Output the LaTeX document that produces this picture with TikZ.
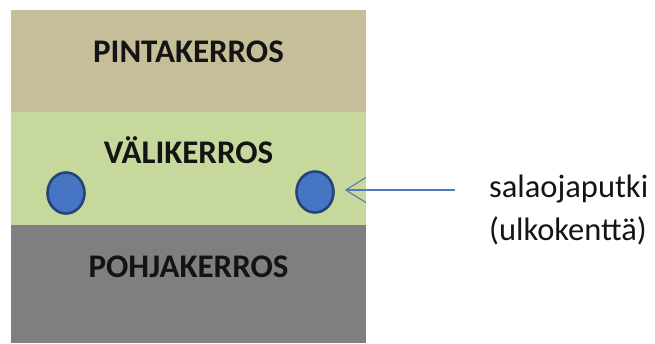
\documentclass[tikz,border=0pt]{standalone}
\usepackage{fontspec}
\setmainfont{Carlito}
\usetikzlibrary{arrows.meta,shapes.geometric}
\definecolor{tanlayer}{RGB}{197,190,152}
\definecolor{greenlayer}{RGB}{198,216,156}
\definecolor{graylayer}{RGB}{127,127,127}
\definecolor{pipefill}{RGB}{70,117,195}
\definecolor{pipeline}{RGB}{38,68,122}
\definecolor{arrowblue}{RGB}{84,124,186}
\definecolor{txt}{RGB}{20,20,20}
\tikzset{
  layertext/.style={font=\fontsize{33}{38}\selectfont\bfseries, text=txt, anchor=base, inner sep=0pt},
  pipe/.style={ellipse, draw=pipeline, fill=pipefill, line width=2.6pt, minimum width=37pt, minimum height=41pt, inner sep=0pt},
  labeltext/.style={font=\fontsize{32.5}{43}\selectfont, text=txt, anchor=base west, align=left, inner sep=0pt},
  pointer/.style={draw=arrowblue, line width=1.1pt, -{Straight Barb[length=20pt,width=25pt,line width=1.1pt]}}
}
\begin{document}
\begin{tikzpicture}[x=1pt,y=-1pt]
\useasboundingbox (0,0) rectangle (655,343);
\fill[white] (0,0) rectangle (655,343);
\fill[tanlayer] (11,10) rectangle (366,112);
\fill[greenlayer] (11,112) rectangle (366,225);
\fill[graylayer] (11,225) rectangle (366,343);
\node[layertext] (pinta) at (188.5,62) {PINTAKERROS};
\node[layertext] (vali) at (188.5,163) {VÄLIKERROS};
\node[layertext] (pohja) at (188.5,277) {POHJAKERROS};
\node[pipe] (pipeL) at (66,193) {};
\node[pipe] (pipeR) at (315,192) {};
\node[labeltext] (lab) at (489,240) {salaojaputki\\(ulkokenttä)};
\coordinate (arrstart) at (455,190);
\draw[pointer] (arrstart) -- ([xshift=10pt]pipeR.east |- arrstart);
\end{tikzpicture}
\end{document}
